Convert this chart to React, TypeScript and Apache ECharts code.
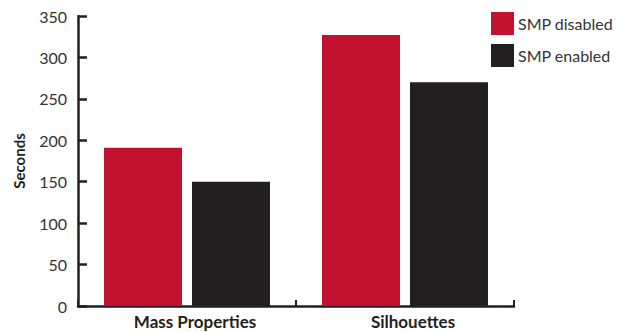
import React, { useEffect, useRef } from "react";
import * as echarts from "echarts";

const categories = ["Mass Properties", "Silhouettes"];
const smpDisabled = [191, 327];
const smpEnabled = [150, 270];
const seriesNames = ["SMP disabled", "SMP enabled"];

export default function App() {
  const ref = useRef<HTMLDivElement>(null);
  useEffect(() => {
    if (!ref.current) return;
    const chart = echarts.init(ref.current, null, { renderer: "svg" });
    const axisColor = "#231f20";
    const font = "Lato, 'DejaVu Sans', sans-serif";
    chart.setOption({
      animation: false,
      textStyle: { fontFamily: font },
      grid: { left: 78, right: 109, top: 16, bottom: 26, containLabel: false },
      legend: {
        orient: "vertical",
        left: 491,
        top: 12,
        padding: 0,
        itemWidth: 23,
        itemHeight: 23,
        itemGap: 9,
        icon: "rect",
        textStyle: { fontSize: 16, color: "#333", fontFamily: font, padding: [0, 0, 0, -1] },
        data: seriesNames,
      },
      xAxis: {
        type: "category",
        data: categories,
        axisLine: { lineStyle: { color: axisColor, width: 2.5 } },
        axisTick: { show: true, inside: true, length: 6, lineStyle: { color: axisColor, width: 2 } },
        axisLabel: {
          color: "#231f20",
          fontSize: 17,
          fontWeight: "bold",
          margin: 7,
          fontFamily: font,
          padding: [0, 0, 0, 16],
        },
      },
      yAxis: {
        type: "value",
        min: 0,
        max: 350,
        interval: 50,
        name: "Seconds",
        nameLocation: "middle",
        nameGap: 52,
        nameRotate: 90,
        nameTextStyle: { color: "#231f20", fontSize: 15, fontWeight: "bold", fontFamily: font },
        axisLine: { show: true, lineStyle: { color: axisColor, width: 2.5 } },
        axisTick: { show: true, inside: true, length: 9, lineStyle: { color: axisColor, width: 2.5 } },
        axisLabel: { color: "#333", fontSize: 16, margin: 11, fontFamily: font },
        splitLine: { show: false },
      },
      series: [
        {
          name: seriesNames[0],
          type: "bar",
          data: smpDisabled,
          barWidth: 78,
          barGap: "12.8%",
          itemStyle: { color: "#c3122f" },
        },
        {
          name: seriesNames[1],
          type: "bar",
          data: smpEnabled,
          barWidth: 78,
          barGap: "12.8%",
          itemStyle: { color: "#231f20" },
        },
      ],
    });
    return () => chart.dispose();
  }, []);
  return <div ref={ref} style={{ width: 623, height: 332, position: "absolute", left: 0, top: 0 }} />;
}
